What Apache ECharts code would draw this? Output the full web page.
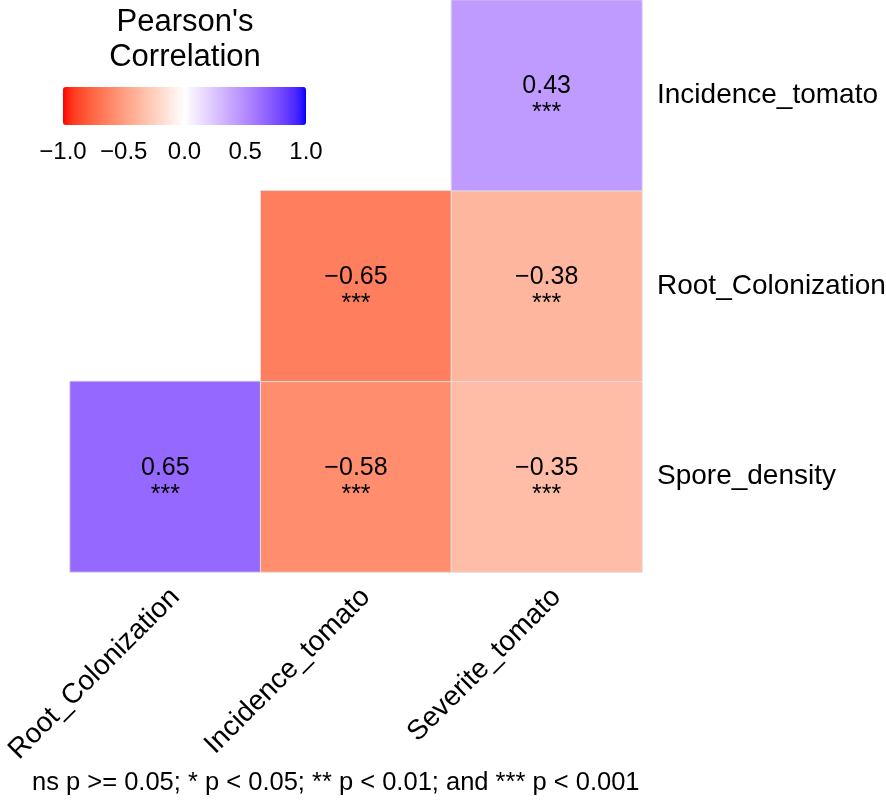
<!DOCTYPE html>
<html>
<head>
<meta charset="utf-8">
<script src="https://cdn.jsdelivr.net/npm/echarts@6/dist/echarts.min.js"></script>
<style>
  html, body { margin: 0; padding: 0; background: #fff; }
  #chart { width: 886px; height: 809px; }
</style>
</head>
<body>
<div id="chart"></div>
<script>
const xCats = ['Root_Colonization', 'Incidence_tomato', 'Severite_tomato'];
const yCats = ['Spore_density', 'Root_Colonization', 'Incidence_tomato'];
// [x index, y index, correlation]
const corrCells = [
  [0, 0, 0.65], [1, 0, -0.58], [2, 0, -0.35],
  [1, 1, -0.65], [2, 1, -0.38],
  [2, 2, 0.43]
];
const signif = ['***', '***', '***', '***', '***', '***'];

// gradient2-like colours, interpolated in Lab space
function toLab(rgb) {
  const lin = rgb.map(c => { c /= 255; return c > 0.04045 ? Math.pow((c + 0.055) / 1.055, 2.4) : c / 12.92; });
  let X = (0.4124 * lin[0] + 0.3576 * lin[1] + 0.1805 * lin[2]) / 0.95047;
  let Y = 0.2126 * lin[0] + 0.7152 * lin[1] + 0.0722 * lin[2];
  let Z = (0.0193 * lin[0] + 0.1192 * lin[1] + 0.9505 * lin[2]) / 1.08883;
  const f = t => t > 0.008856 ? Math.cbrt(t) : 7.787 * t + 16 / 116;
  return [116 * f(Y) - 16, 500 * (f(X) - f(Y)), 200 * (f(Y) - f(Z))];
}
function fromLab(lab) {
  const fy = (lab[0] + 16) / 116, fx = fy + lab[1] / 500, fz = fy - lab[2] / 200;
  const inv = t => t > 0.206893 ? t * t * t : (t - 16 / 116) / 7.787;
  const X = inv(fx) * 0.95047, Y = inv(fy), Z = inv(fz) * 1.08883;
  let r = 3.2406 * X - 1.5372 * Y - 0.4986 * Z;
  let g = -0.9689 * X + 1.8758 * Y + 0.0415 * Z;
  let b = 0.0557 * X - 0.2040 * Y + 1.0570 * Z;
  const gam = c => { c = Math.max(0, Math.min(1, c)); return Math.round(255 * (c > 0.0031308 ? 1.055 * Math.pow(c, 1 / 2.4) - 0.055 : 12.92 * c)); };
  return 'rgb(' + gam(r) + ',' + gam(g) + ',' + gam(b) + ')';
}
function gradient(n) {
  const red = toLab([255, 0, 0]), white = toLab([255, 255, 255]), blue = toLab([0, 0, 255]);
  const out = [];
  for (let i = 0; i <= n; i++) {
    const v = -1 + 2 * i / n;
    const end = v < 0 ? red : blue, t = Math.abs(v);
    out.push(fromLab(white.map((w, k) => w + (end[k] - w) * t)));
  }
  return out;
}

const font = 'Liberation Sans, Arial, sans-serif';
const minus = s => s.replace('-', '\u2212');

const chart = echarts.init(document.getElementById('chart'));
chart.setOption({
  animation: false,
  title: [
    {
      text: "Pearson's\nCorrelation",
      left: 185, top: 5, textAlign: 'center', padding: 0,
      textStyle: { fontFamily: font, fontSize: 31, fontWeight: 'normal', color: '#000', lineHeight: 35 }
    },
    {
      text: 'ns p >= 0.05; * p < 0.05; ** p < 0.01; and *** p < 0.001',
      left: 32, top: 770, padding: 0,
      textStyle: { fontFamily: font, fontSize: 25.5, fontWeight: 'normal', color: '#000' }
    }
  ],
  grid: [
    { left: 70, top: 0, width: 572, height: 572, outerBoundsMode: 'none', containLabel: false },
    { left: 63, top: 87, width: 243, height: 38, show: false, outerBoundsMode: 'none', containLabel: false }
  ],
  xAxis: [
    {
      type: 'category', data: xCats, gridIndex: 0,
      axisLine: { show: false }, axisTick: { show: false }, splitLine: { show: false },
      axisLabel: { rotate: 45, fontSize: 28, fontFamily: font, color: '#000', margin: 11, verticalAlign: 'top' }
    },
    {
      type: 'value', gridIndex: 1, min: -1, max: 1, interval: 0.5, position: 'bottom',
      axisLine: { show: false }, splitLine: { show: false },
      axisTick: { show: true, inside: true, length: 7, lineStyle: { color: '#fff', width: 1.5 } },
      axisLabel: { fontSize: 24, fontFamily: font, color: '#000', margin: 15,
        formatter: v => minus(v.toFixed(1)) }
    },
    {
      type: 'value', gridIndex: 1, min: -1, max: 1, interval: 0.5, position: 'top',
      axisLine: { show: false }, splitLine: { show: false }, axisLabel: { show: false },
      axisTick: { show: true, inside: true, length: 7, lineStyle: { color: '#fff', width: 1.5 } }
    }
  ],
  yAxis: [
    {
      type: 'category', data: yCats, gridIndex: 0, position: 'right',
      axisLine: { show: false }, axisTick: { show: false }, splitLine: { show: false },
      axisLabel: { fontSize: 28, fontFamily: font, color: '#000', margin: 15 }
    },
    { type: 'value', gridIndex: 1, show: false, min: 0, max: 1 }
  ],
  visualMap: {
    type: 'continuous', min: -1, max: 1, orient: 'horizontal',
    left: 63, top: 87, padding: 0, itemWidth: 38, itemHeight: 243,
    calculable: false, showLabel: false, text: null, seriesIndex: 0,
    inRange: { color: gradient(40) }
  },
  series: [{
    type: 'heatmap',
    xAxisIndex: 0, yAxisIndex: 0,
    data: corrCells,
    itemStyle: { borderColor: '#e0e0e0', borderWidth: 1 },
    emphasis: { disabled: true },
    label: {
      show: true,
      formatter: p => '{v|' + minus(p.value[2].toFixed(2)) + '}\n{s|' + signif[p.dataIndex] + '}',
      rich: {
        v: { fontSize: 25, fontFamily: font, color: '#000', lineHeight: 36 },
        s: { fontSize: 25, fontFamily: font, color: '#000', lineHeight: 18 }
      }
    }
  }]
});
</script>
</body>
</html>
